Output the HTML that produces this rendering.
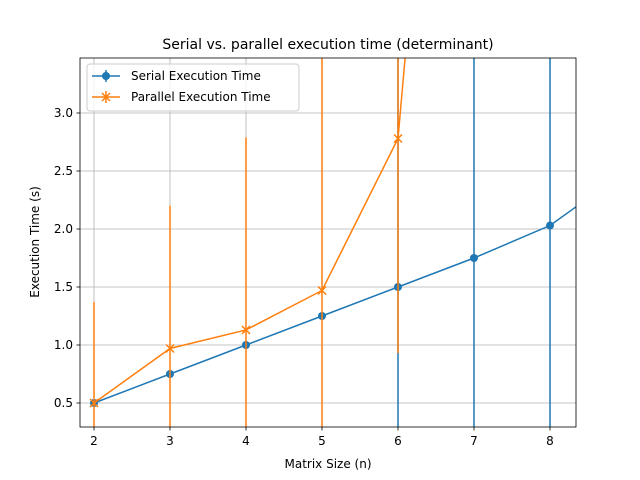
<!DOCTYPE html>
<html><head><meta charset="utf-8"><style>
html,body{margin:0;background:#fff;width:640px;height:480px;overflow:hidden;}
svg{display:block;font-family:"DejaVu Sans","Liberation Sans",sans-serif;}
</style></head><body>
<svg id="chart" width="640" height="480">
<text x="328" y="49" text-anchor="middle" font-size="14">Serial vs. parallel execution time (determinant)</text>
<defs><clipPath id="clip"><rect x="80" y="58" width="496" height="369"/></clipPath></defs>
<g id="grid"></g>
<g id="plot" clip-path="url(#clip)"></g>
<rect x="80" y="58" width="496" height="369" fill="none" stroke="#000" stroke-width="0.8"/>
<g id="axes"></g>
<text x="328" y="468" text-anchor="middle" font-size="12">Matrix Size (n)</text>
<text transform="translate(39,242) rotate(-90)" text-anchor="middle" font-size="12">Execution Time (s)</text>
<g>
<rect x="87" y="64" width="212" height="47" rx="3" fill="#fff" fill-opacity="0.8" stroke="#ccc"/>
<g>
<line x1="92" y1="76" x2="120" y2="76" stroke="#1f77b4" stroke-width="1.5"/><line x1="106" y1="70" x2="106" y2="82" stroke="#1f77b4" stroke-width="1.5"/><circle cx="106" cy="76" r="4" fill="#1f77b4"/>
<text x="131" y="80" font-size="12">Serial Execution Time</text></g>
<g>
<line x1="92" y1="97" x2="120" y2="97" stroke="#ff7f0e" stroke-width="1.5"/><line x1="106" y1="91" x2="106" y2="103" stroke="#ff7f0e" stroke-width="1.5"/><path d="M102,93L110,101M110,93L102,101" stroke="#ff7f0e" stroke-width="1.5"/>
<text x="131" y="101" font-size="12">Parallel Execution Time</text></g>
</g>
</svg>
<script>
const sizes=[2,3,4,5,6,7,8,9];
const serialTimes=[0.5,0.75,1.0,1.25,1.5,1.75,2.03,2.5];
const serialErr=[0,0,0,0,3,5,6,7];
const parSizes=[2,3,4,5,6,7];
const parallelTimes=[0.5,0.97,1.13,1.47,2.78,10.2];
const parallelErr=[0.87,1.23,1.66,2.5,1.85,1];
const xTicks=[2,3,4,5,6,7,8];
const yTicks=[0.5,1.0,1.5,2.0,2.5,3.0];
const NS="http://www.w3.org/2000/svg";
const X=v=>94+(v-2)*76, Y=v=>403-(v-0.5)*116;
function mk(t,a,p){const e=document.createElementNS(NS,t);for(const k in a)e.setAttribute(k,a[k]);p.appendChild(e);return e;}
const grid=document.getElementById('grid'),axes=document.getElementById('axes'),plot=document.getElementById('plot');
xTicks.forEach(t=>{const x=X(t);
const g=mk('line',{x1:x,x2:x,y1:58,y2:427,stroke:'#b0b0b0','stroke-width':0.8},grid);

mk('line',{x1:x,x2:x,y1:427,y2:430.5,stroke:'#000','stroke-width':0.8},axes);
const l=mk('text',{x:x,y:445,'text-anchor':'middle','font-size':12},axes);l.textContent=t;
});
yTicks.forEach(t=>{const y=Y(t);
const g=mk('line',{x1:80,x2:576,y1:y,y2:y,stroke:'#b0b0b0','stroke-width':0.8},grid);

mk('line',{x1:76.5,x2:80,y1:y,y2:y,stroke:'#000','stroke-width':0.8},axes);
const l=mk('text',{x:73,y:y+4,'text-anchor':'end','font-size':12},axes);l.textContent=t.toFixed(1);
});
function series(xs,vals,errs,col,name,marker){
const g=mk('g',{},plot);
xs.forEach((s,i)=>{const e=mk('line',{x1:X(s),x2:X(s),y1:Y(vals[i]-errs[i]),y2:Y(vals[i]+errs[i]),stroke:col,'stroke-width':1.5},g);
});
const p=mk('polyline',{points:xs.map((s,i)=>X(s)+','+Y(vals[i])).join(' '),fill:'none',stroke:col,'stroke-width':1.5},g);

xs.forEach((s,i)=>{const x=X(s),y=Y(vals[i]);let m;
if(marker==='o')m=mk('circle',{cx:x,cy:y,r:4,fill:col},g);
else m=mk('path',{d:`M${x-4},${y-4}L${x+4},${y+4}M${x+4},${y-4}L${x-4},${y+4}`,stroke:col,'stroke-width':1.5},g);
});}
series(sizes,serialTimes,serialErr,'#1f77b4','serial','o');
series(parSizes,parallelTimes,parallelErr,'#ff7f0e','parallel','x');
</script>
</body></html>
